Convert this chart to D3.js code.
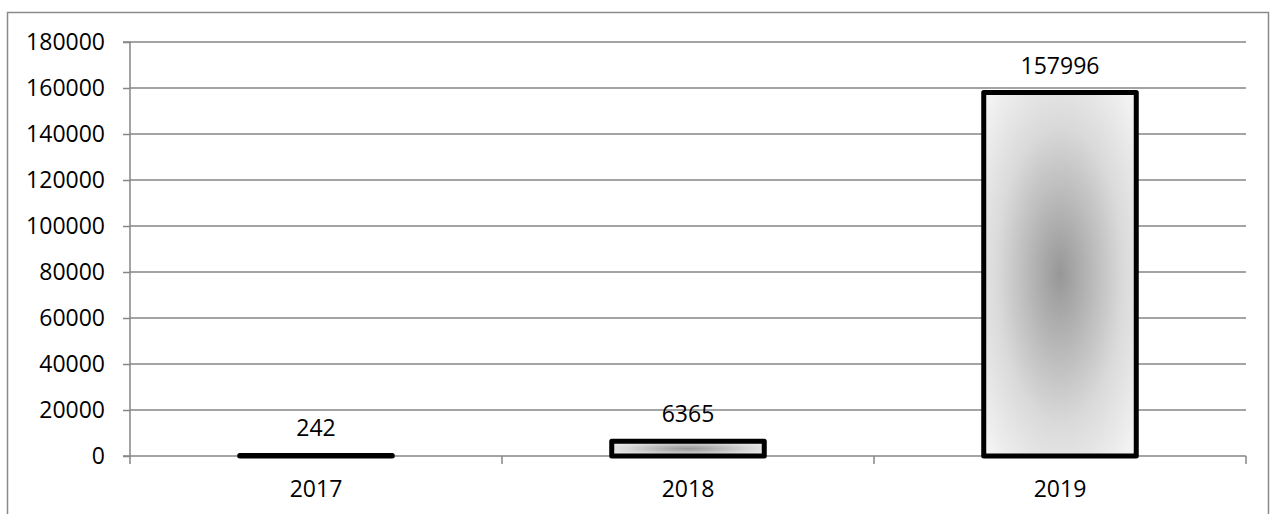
<!DOCTYPE html>
<html>
<head>
<meta charset="utf-8">
<script src="https://cdn.jsdelivr.net/npm/d3@7"></script>
<style>
  html, body { margin: 0; padding: 0; background: #fff; }
  svg { display: block; }
  text { font-family: "Open Sans", "Noto Sans", sans-serif; fill: #000; }
</style>
</head>
<body>
<svg id="chart" width="1278" height="514"></svg>
<script>
// Yearly totals
const years = ["2017", "2018", "2019"];
const totals = [242, 6365, 157996];
const yTicks = [0, 20000, 40000, 60000, 80000, 100000, 120000, 140000, 160000, 180000];

const svg = d3.select("#chart");
const plot = { left: 130, right: 1246, top: 42, bottom: 456 };
const FS = 23;

// Outer chart frame (bottom edge falls below the visible area)
svg.append("rect")
  .attr("x", 7.5).attr("y", 12.5)
  .attr("width", 1261).attr("height", 520)
  .attr("fill", "none").attr("stroke", "#8a8a8a").attr("stroke-width", 1.5);

const x = d3.scaleBand().domain(years).range([plot.left, plot.right]).paddingInner(0).paddingOuter(0);
const y = d3.scaleLinear().domain([0, 180000]).range([plot.bottom, plot.top]);

// Radial shading for the bars
const defs = svg.append("defs");
const grad = defs.append("radialGradient").attr("id", "barShade")
  .attr("cx", "50%").attr("cy", "50%").attr("r", "75%");
grad.append("stop").attr("offset", "0%").attr("stop-color", "#979797");
grad.append("stop").attr("offset", "55%").attr("stop-color", "#dadada");
grad.append("stop").attr("offset", "100%").attr("stop-color", "#fbfbfb");

// Horizontal gridlines
svg.append("g").selectAll("line").data(yTicks.filter(d => d > 0)).join("line")
  .attr("x1", plot.left).attr("x2", plot.right)
  .attr("y1", d => y(d)).attr("y2", d => y(d))
  .attr("stroke", "#868686").attr("stroke-width", 1.5);

// Y axis
const yAxis = svg.append("g").attr("transform", `translate(${plot.left},0)`)
  .call(d3.axisLeft(y).tickValues(yTicks).tickSize(7).tickPadding(18).tickFormat(d3.format("d")));
yAxis.select(".domain").attr("stroke", "#868686").attr("stroke-width", 1.5).attr("d", `M-7,${plot.top}H0V${plot.bottom}H-7`);
yAxis.selectAll(".tick line").attr("stroke", "#868686").attr("stroke-width", 1.5);
yAxis.selectAll(".tick text").attr("font-size", FS).attr("fill", "#000");

// X axis
const xAxis = svg.append("g").attr("transform", `translate(0,${plot.bottom})`)
  .call(d3.axisBottom(x).tickSize(0).tickPadding(25));
xAxis.select(".domain").remove();
xAxis.selectAll(".tick text").attr("font-size", FS).attr("fill", "#000");
svg.append("line")
  .attr("x1", plot.left).attr("x2", plot.right)
  .attr("y1", plot.bottom).attr("y2", plot.bottom)
  .attr("stroke", "#868686").attr("stroke-width", 1.5);
// Category boundary ticks
const bounds = [plot.left, ...years.map(d => x(d) + x.bandwidth())];
svg.append("g").selectAll("line").data(bounds).join("line")
  .attr("x1", d => d).attr("x2", d => d)
  .attr("y1", plot.bottom).attr("y2", plot.bottom + 8)
  .attr("stroke", "#868686").attr("stroke-width", 1.5);

// Bars
const barW = x.bandwidth() * 0.41;
const data = years.map((yr, i) => ({ year: yr, value: totals[i] }));
svg.append("g").selectAll("rect").data(data).join("rect")
  .attr("x", d => x(d.year) + (x.bandwidth() - barW) / 2)
  .attr("width", barW)
  .attr("y", d => y(d.value))
  .attr("height", d => Math.max(0.5, plot.bottom - y(d.value)))
  .attr("fill", "url(#barShade)")
  .attr("stroke", "#000").attr("stroke-width", 5)
  .attr("stroke-linejoin", "round");

// Value labels
svg.append("g").selectAll("text").data(data).join("text")
  .attr("x", d => x(d.year) + x.bandwidth() / 2)
  .attr("y", d => y(d.value) - 19)
  .attr("text-anchor", "middle")
  .attr("font-size", FS)
  .text(d => d.value);
</script>
</body>
</html>
